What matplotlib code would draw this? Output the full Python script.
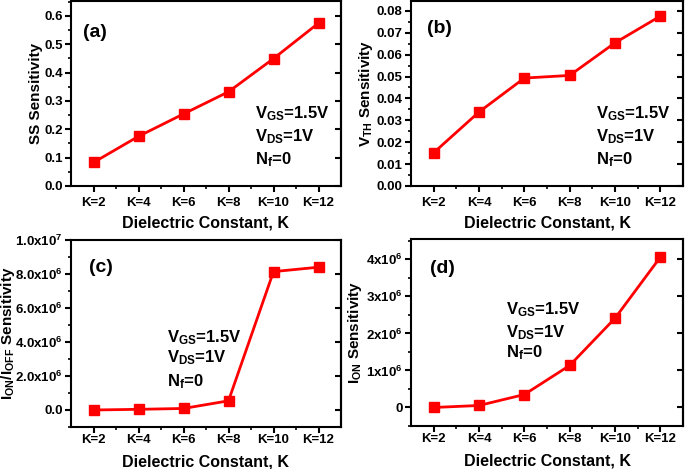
import matplotlib
matplotlib.use('Agg')
import matplotlib.pyplot as plt
from matplotlib.ticker import AutoMinorLocator, FixedLocator

plt.rcParams['font.family'] = ['Liberation Sans', 'DejaVu Sans']
plt.rcParams['font.weight'] = 'bold'
plt.rcParams['axes.labelweight'] = 'bold'
plt.rcParams['mathtext.default'] = 'regular'

# Data
k_labels = ['K=2', 'K=4', 'K=6', 'K=8', 'K=10', 'K=12']
ss_sens = [0.083, 0.175, 0.254, 0.332, 0.449, 0.574]
vth_sens = [0.0152, 0.0338, 0.0493, 0.0505, 0.0654, 0.0776]
ratio_sens = [0.0, 0.04e6, 0.09e6, 0.54e6, 8.14e6, 8.4e6]
ion_sens = [0.0, 0.054e6, 0.35e6, 1.135e6, 2.41e6, 4.06e6]

ss_ticks = [0.0, 0.1, 0.2, 0.3, 0.4, 0.5, 0.6]
ss_ticklabels = ['0.0', '0.1', '0.2', '0.3', '0.4', '0.5', '0.6']
vth_ticks = [0.0, 0.01, 0.02, 0.03, 0.04, 0.05, 0.06, 0.07, 0.08]
vth_ticklabels = ['0.00', '0.01', '0.02', '0.03', '0.04', '0.05', '0.06', '0.07', '0.08']
ratio_ticks = [0.0, 2e6, 4e6, 6e6, 8e6, 1e7]
ratio_ticklabels = ['0.0', '2.0x10$^{6}$', '4.0x10$^{6}$', '6.0x10$^{6}$',
                    '8.0x10$^{6}$', '1.0x10$^{7}$']
ion_ticks = [0, 1e6, 2e6, 3e6, 4e6]
ion_ticklabels = ['0', '1x10$^{6}$', '2x10$^{6}$', '3x10$^{6}$', '4x10$^{6}$']

bias_text = ['V$_{GS}$=1.5V', 'V$_{DS}$=1V', 'N$_{f}$=0']

W, H = 685, 469
fig = plt.figure(figsize=(W / 100, H / 100), dpi=100)


def make_panel(rect, values, yticks, yticklabels, ylim, ylabel, ylab_x, xlab_y, tick_pad,
               tag, tag_pos, text_x, text_ys):
    ax = fig.add_axes(rect)
    x = list(range(len(k_labels)))
    ax.plot(x, values, color='#ff0000', lw=2, marker='s', markersize=6.5)
    ax.set_xlim(-0.5, len(k_labels) - 0.5)
    ax.set_ylim(*ylim)
    ax.set_xticks(x)
    ax.set_xticklabels(k_labels)
    ax.xaxis.set_minor_locator(FixedLocator([i + 0.5 for i in x[:-1]]))
    ax.set_yticks(yticks)
    ax.set_yticklabels(yticklabels)
    ax.yaxis.set_minor_locator(AutoMinorLocator(2))
    ax.tick_params(which='major', length=4, width=1.5, labelsize=9.5, pad=2)
    ax.tick_params(axis='x', which='major', pad=tick_pad)
    ax.tick_params(which='minor', length=2.5, width=1.2)
    for lab in ax.get_xticklabels() + ax.get_yticklabels():
        lab.set_fontweight('bold')
    for sp in ax.spines.values():
        sp.set_linewidth(1.5)
    sec = ax.secondary_yaxis('right')
    sec.set_yticks(yticks)
    sec.tick_params(direction='in', length=4, width=1.5, labelright=False)
    sec.spines['right'].set_linewidth(1.5)
    ax.set_xlabel('Dielectric Constant, K', fontsize=11.5, fontweight='bold')
    ax.xaxis.set_label_coords(0.5, xlab_y)
    ax.set_ylabel(ylabel, fontsize=11, fontweight='bold')
    ax.yaxis.set_label_coords(ylab_x, 0.5)
    ax.text(tag_pos[0], tag_pos[1], tag, transform=ax.transAxes, fontsize=14,
            fontweight='bold', va='center', ha='left')
    for t, ty in zip(bias_text, text_ys):
        ax.text(text_x, ty, t, transform=ax.transAxes, fontsize=12,
                fontweight='bold', va='center', ha='left')
    return ax


make_panel([71 / W, 1 - 186 / H, 270 / W, 185 / H], ss_sens, ss_ticks, ss_ticklabels,
           (0, 0.652), 'SS Sensitivity', -0.104, -0.16, 4,
           '(a)', (0.045, 0.83), 0.68, [0.39, 0.265, 0.14])
make_panel([411 / W, 1 - 186 / H, 272 / W, 185 / H], vth_sens, vth_ticks, vth_ticklabels,
           (0, 0.0845), 'V$_{TH}$ Sensitivity', -0.132, -0.16, 4,
           '(b)', (0.06, 0.85), 0.68, [0.39, 0.265, 0.14])
make_panel([71 / W, 1 - 427 / H, 270 / W, 187 / H], ratio_sens, ratio_ticks, ratio_ticklabels,
           (-1e6, 1e7), 'I$_{ON}$/I$_{OFF}$ Sensitivity', -0.2, -0.145, 1,
           '(c)', (0.065, 0.855), 0.355, [0.48, 0.37, 0.24])
make_panel([411 / W, 1 - 426 / H, 272 / W, 187 / H], ion_sens, ion_ticks, ion_ticklabels,
           (-0.5e6, 4.55e6), 'I$_{ON}$ Sensitivity', -0.173, -0.145, 1,
           '(d)', (0.07, 0.84), 0.35, [0.62, 0.5, 0.39])

fig.savefig('out.png', dpi=100)
